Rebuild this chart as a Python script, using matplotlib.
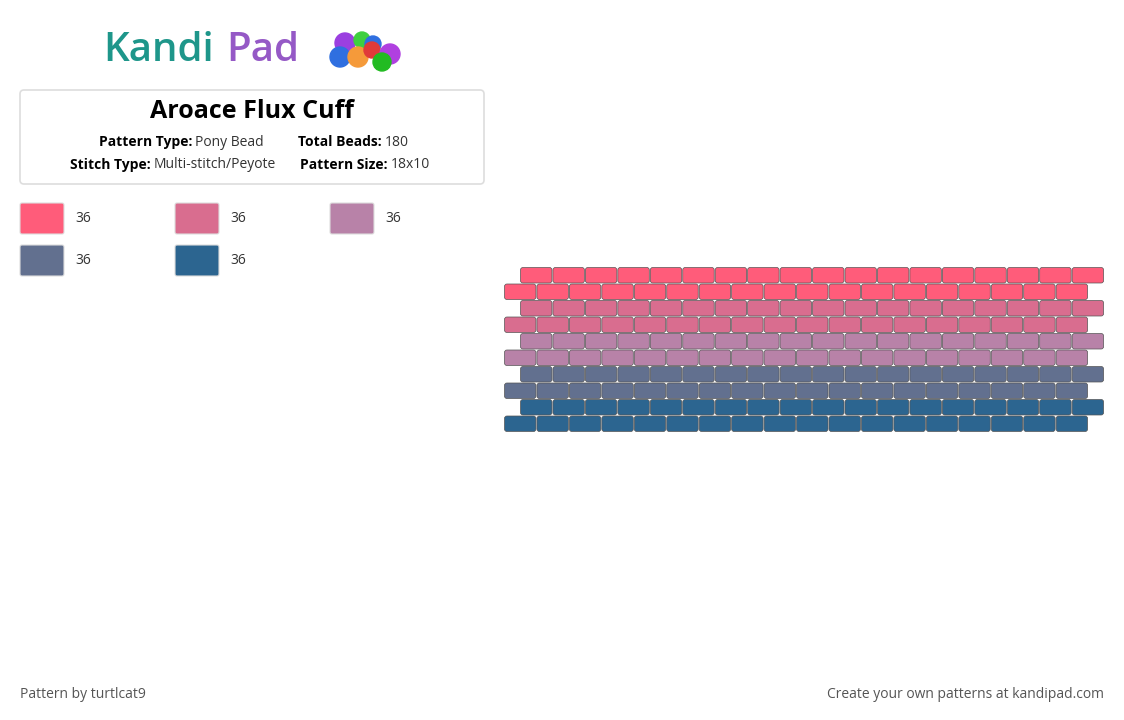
import matplotlib
matplotlib.use("Agg")
import matplotlib.pyplot as plt
from matplotlib.patches import FancyBboxPatch, Circle

title = "Aroace Flux Cuff"
palette = ["#FF5C7A", "#D96D8F", "#B882A8", "#62708F", "#2C6590"]
counts = [36, 36, 36, 36, 36]
row_colors = [0, 0, 1, 1, 2, 2, 3, 3, 4, 4]
n_cols = 18

W, H = 1124, 720
fig = plt.figure(figsize=(W/100, H/100), dpi=100)
ax = fig.add_axes([0, 0, 1, 1])
ax.set_xlim(0, W); ax.set_ylim(H, 0); ax.axis("off")
FONT = "Open Sans"

# logo
t1 = ax.text(103, 51, "Kandi", fontsize=29, color="#1E968A", fontfamily=FONT,
             fontweight="semibold", va="center", ha="left")
fig.canvas.draw()
wk = t1.get_window_extent().width
ax.text(103 + wk + 12, 51, "Pad", fontsize=29, color="#9559C6", fontfamily=FONT,
        fontweight="semibold", va="center", ha="left")
for (cx, cy, r, c) in [(345, 43, 10, "#9B3FE0"), (362, 40, 8, "#3FCF3F"), (373, 44, 8, "#2F6FE0"),
                       (340, 57, 10, "#2F6FE0"), (358, 57, 10, "#F59A3A"), (372, 50, 8, "#E03A3A"),
                       (390, 54, 10, "#B040E0"), (382, 62, 9, "#22BB22")]:
    ax.add_patch(Circle((cx, cy), r, color=c, zorder=3))

# info box
ax.add_patch(FancyBboxPatch((20, 90), 464, 94, boxstyle="round,pad=0,rounding_size=4",
                            fc="white", ec="#DDDDDD", lw=1.2))
ax.text(252, 112, title, fontsize=18, fontweight="bold", ha="center", va="center", fontfamily=FONT)
def kv(x, y, k, v):
    t = ax.text(x, y, k, fontsize=10, fontweight="bold", ha="left", va="center", fontfamily=FONT)
    fig.canvas.draw()
    bb = t.get_window_extent()
    ax.text(x + bb.width + 3, y, v, fontsize=10, ha="left", va="center", fontfamily=FONT, color="#333333")
kv(99, 142, "Pattern Type:", "Pony Bead")
kv(298, 142, "Total Beads:", "180")
kv(70, 165, "Stitch Type:", "Multi-stitch/Peyote")
kv(300, 165, "Pattern Size:", "18x10")

# legend
for i, (c, n) in enumerate(zip(palette, counts)):
    x = 20 + (i % 3) * 155
    y = 203 + (i // 3) * 42
    ax.add_patch(FancyBboxPatch((x, y), 44, 31, boxstyle="round,pad=0,rounding_size=2",
                                fc=c, ec="#DDDDDD", lw=0.8))
    ax.text(x + 55, y + 15.5, str(n), fontsize=10, va="center", fontfamily=FONT, color="#333333")

# beads
bw, bh, gap = 32.45, 16.5, 1.0
for r, ci in enumerate(row_colors):
    x0 = 520 if r % 2 == 0 else 504
    y0 = 267 + r * bh
    for c in range(n_cols):
        x = x0 + c * bw
        w = bw - gap
        if x + w > 1104:
            w = 1104 - x
        ax.add_patch(FancyBboxPatch((x + 0.5, y0 + 0.5), w, bh - gap,
                                    boxstyle="round,pad=0,rounding_size=2.5",
                                    fc=palette[ci], ec="#555555", lw=0.5))

ax.text(20, 695, "Pattern by turtlcat9", fontsize=10, va="center", fontfamily=FONT, color="#555555")
ax.text(1104, 695, "Create your own patterns at kandipad.com", fontsize=10, va="center", ha="right",
        fontfamily=FONT, color="#555555")
fig.savefig("out.png", dpi=100)
